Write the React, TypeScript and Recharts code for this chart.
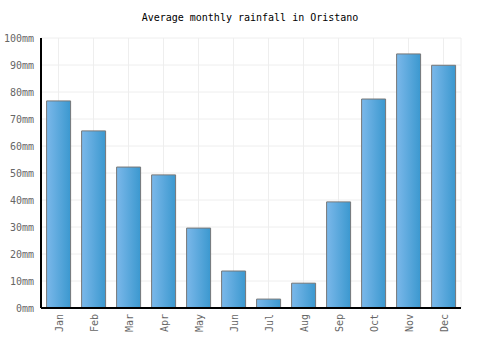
import { BarChart, Bar, XAxis, YAxis, CartesianGrid } from 'recharts'

const months = ['Jan', 'Feb', 'Mar', 'Apr', 'May', 'Jun', 'Jul', 'Aug', 'Sep', 'Oct', 'Nov', 'Dec']
const rainfall = [76.7, 65.6, 52.2, 49.3, 29.6, 13.7, 3.3, 9.2, 39.3, 77.4, 94.1, 89.9]
const yTicks = [0, 10, 20, 30, 40, 50, 60, 70, 80, 90, 100]

const font = '"DejaVu Sans Mono", monospace'

const chartData = months.map((m, i) => ({ month: m, rain: rainfall[i] }))

const MonthTick = (props: any) => {
  const { x, y, payload } = props
  return (
    <text
      x={x}
      y={y}
      transform={`rotate(-90, ${x}, ${y})`}
      dx={2}
      dy={4}
      textAnchor="end"
      fill="#666"
      fontSize={10}
      fontFamily={font}
    >
      {payload.value}
    </text>
  )
}

const RainTick = (props: any) => {
  const { x, y, payload } = props
  return (
    <text x={x} y={y} dy={4} textAnchor="end" fill="#666" fontSize={10} fontFamily={font}>
      {`${payload.value}mm`}
    </text>
  )
}

export default function App() {
  return (
    <div style={{ position: 'absolute', left: 0, top: 0, width: 500, height: 350, background: '#fff' }}>
      <div
        style={{
          position: 'absolute',
          top: 12,
          left: 0,
          width: 500,
          textAlign: 'center',
          fontFamily: font,
          fontSize: 10,
          color: '#000'
        }}
      >
        Average monthly rainfall in Oristano
      </div>
      <BarChart
        width={500}
        height={350}
        data={chartData}
        margin={{ top: 38, right: 39, left: 0, bottom: 0 }}
        barCategoryGap="16%"
      >
        <defs>
          <linearGradient id="barFill" x1="0" y1="0" x2="1" y2="0">
            <stop offset="0%" stopColor="#7bb8ea" />
            <stop offset="100%" stopColor="#3b98cf" />
          </linearGradient>
        </defs>
        <CartesianGrid stroke="#eeeeee" strokeWidth={1} />
        <XAxis
          dataKey="month"
          height={42}
          tick={<MonthTick />}
          tickLine={false}
          axisLine={{ stroke: '#000', strokeWidth: 2 }}
          interval={0}
        />
        <YAxis
          width={41}
          domain={[0, 100]}
          ticks={yTicks}
          tick={<RainTick />}
          tickLine={false}
          tickSize={0}
          tickMargin={7}
          axisLine={{ stroke: '#000', strokeWidth: 2 }}
        />
        <Bar
          dataKey="rain"
          fill="url(#barFill)"
          stroke="#777"
          strokeWidth={1}
          isAnimationActive={false}
        />
      </BarChart>
    </div>
  )
}
